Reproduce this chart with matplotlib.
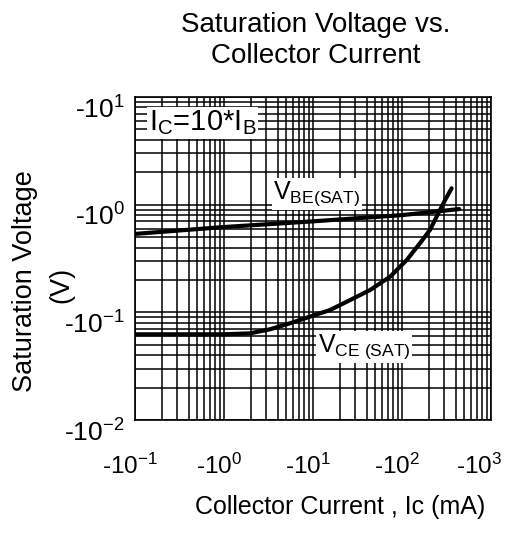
import matplotlib
matplotlib.use('Agg')
import matplotlib.pyplot as plt
import matplotlib.transforms as mtransforms
from matplotlib.ticker import LogLocator, NullFormatter

plt.rcParams['font.family'] = ['Liberation Sans', 'DejaVu Sans']
plt.rcParams['mathtext.fontset'] = 'custom'
plt.rcParams['mathtext.rm'] = 'Liberation Sans'
plt.rcParams['mathtext.it'] = 'Liberation Sans'

# V_BE(SAT) curve (Ic in mA, volts)
vbe_ic = [0.1, 1.0, 10.0, 100.0, 440.0]
vbe_v = [0.535, 0.62, 0.70, 0.80, 0.91]

# V_CE(SAT) curve
vce_ic = [0.1, 1.0, 1.96, 3.29, 5.52, 9.25, 15.5, 26.1, 43.7, 73.3, 113.0, 159.0,
          206.0, 256.0, 304.0, 361.0]
vce_v = [0.0625, 0.0625, 0.0638, 0.0696, 0.0791, 0.0912, 0.105, 0.130, 0.161, 0.214,
         0.306, 0.438, 0.582, 0.832, 1.10, 1.42]

x_ticks = [0.1, 1, 10, 100, 1000]
x_labels = ['-10$^{-1}$', '-10$^{0}$', '-10$^{1}$', '-10$^{2}$', '-10$^{3}$']
y_ticks = [0.01, 0.1, 1, 10]
y_labels = ['-10$^{-2}$', '-10$^{-1}$', '-10$^{0}$', '-10$^{1}$']

fig = plt.figure(figsize=(5.07, 5.33), dpi=100)
ax = fig.add_axes([135 / 507, 1 - 420 / 533, 356 / 507, 323 / 533])

ax.set_xscale('log')
ax.set_yscale('log')
ax.set_xlim(0.1, 1000)
ax.set_ylim(0.01, 10)

ax.plot(vbe_ic, vbe_v, color='black', lw=3.0, solid_capstyle='round', zorder=3)
ax.plot(vce_ic, vce_v, color='black', lw=3.0, solid_capstyle='round',
        solid_joinstyle='round', zorder=3)

# grid
ax.xaxis.set_minor_locator(LogLocator(base=10, subs=range(2, 10), numticks=20))
ax.yaxis.set_minor_locator(LogLocator(base=10, subs=range(2, 10), numticks=20))
ax.xaxis.set_minor_formatter(NullFormatter())
ax.yaxis.set_minor_formatter(NullFormatter())
ax.grid(True, which='both', color='black', lw=1.1)
ax.tick_params(which='both', length=0, labelsize=19)
ax.tick_params(axis='x', pad=24, labelsize=17.5)
ax.tick_params(axis='y', pad=6)
for s in ax.spines.values():
    s.set_linewidth(1.2)

ax.set_xticks(x_ticks)
ax.set_xticklabels(x_labels)
ax.set_yticks(y_ticks)
ax.set_yticklabels(y_labels)
yshift = mtransforms.ScaledTranslation(-2 / 100, -10 / 100, fig.dpi_scale_trans)
for lab in ax.get_yticklabels():
    lab.set_transform(lab.get_transform() + yshift)
xlabs = ax.get_xticklabels()
for i, lab in enumerate(xlabs):
    dx = -12 if i == len(xlabs) - 1 else -5
    lab.set_transform(lab.get_transform() +
                      mtransforms.ScaledTranslation(dx / 100, 0, fig.dpi_scale_trans))

box = dict(facecolor='white', edgecolor='none', pad=1)
ax.text(0.19, 0.92, 'I$_\\mathregular{C}$=10*I$_\\mathregular{B}$', transform=ax.transAxes,
        fontsize=21, ha='center', va='center', bbox=box, zorder=4)
ax.text(0.511, 0.70, 'V$_\\mathregular{BE(SAT)}$', transform=ax.transAxes,
        fontsize=18, ha='center', va='center', bbox=box, zorder=4)
ax.text(0.644, 0.226, 'V$_\\mathregular{CE\\ (SAT)}$', transform=ax.transAxes,
        fontsize=18, ha='center', va='center', bbox=box, zorder=4)

fig.text(0.623, 0.953, 'Saturation Voltage vs.', fontsize=20, ha='center', va='center')
fig.text(0.623, 0.895, 'Collector Current', fontsize=20, ha='center', va='center')
fig.text(0.671, 0.049, 'Collector Current , Ic (mA)', fontsize=18, ha='center', va='center')
fig.text(0.049, 0.473, 'Saturation Voltage', fontsize=19.5, ha='center', va='center', rotation=90)
fig.text(0.122, 0.465, '(V)', fontsize=19.5, ha='center', va='center', rotation=90)

fig.savefig('out.png', dpi=100)
